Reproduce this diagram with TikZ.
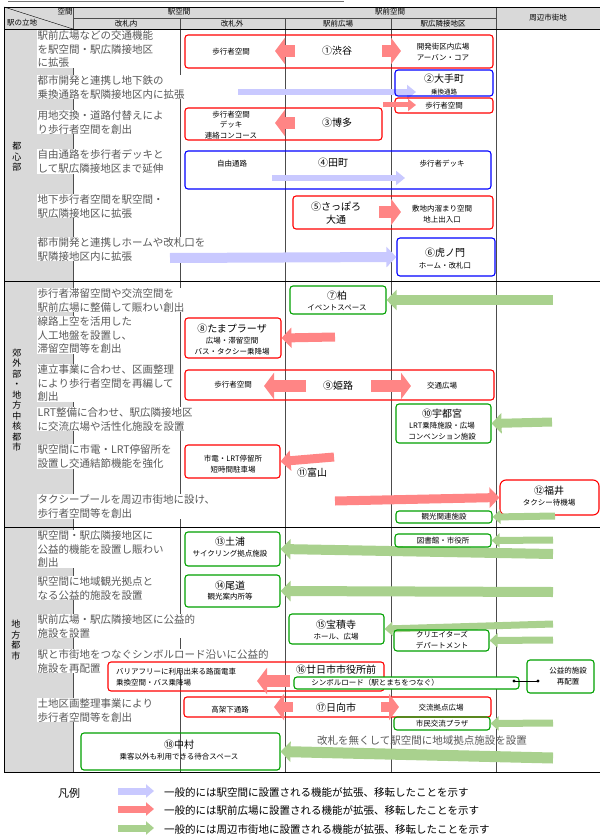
\documentclass[tikz,border=0pt]{standalone}
\usepackage{fontspec}
\newfontfamily\jp{Noto Sans CJK JP}
\usetikzlibrary{arrows.meta}
\definecolor{pinkarr}{HTML}{FF8585}
\definecolor{lavarr}{HTML}{C9C9FF}
\definecolor{grnarr}{HTML}{A9D18E}
\definecolor{boxred}{HTML}{FF0000}
\definecolor{boxblue}{HTML}{0000FF}
\definecolor{boxgrn}{HTML}{00A000}
\tikzset{
  box/.style={draw,rounded corners=3pt,line width=1.1pt,inner sep=0pt},
  rbox/.style={box,draw=boxred},
  bbox/.style={box,draw=boxblue},
  gbox/.style={box,draw=boxgrn},
  desc/.style={anchor=north west,align=left,fill=white,inner sep=0.5pt,text=black!65,font=\jp\fontsize{10.5}{13.5}\selectfont},
  small/.style={align=center,inner sep=0pt,font=\jp\fontsize{7.5}{10.5}\selectfont},
  city/.style={align=center,inner sep=0pt,font=\jp\fontsize{10}{13}\selectfont},
  head/.style={font=\jp\fontsize{7.5}{9}\selectfont,inner sep=0pt},
  larr/.style={draw=lavarr,line width=6pt,-{Triangle[length=9pt,width=14pt]}},
  parr/.style={draw=pinkarr,line width=9pt,-{Triangle[length=10pt,width=20pt]}},
  garr/.style={draw=grnarr,line width=9pt,-{Triangle[length=10pt,width=20pt]}},
  blk/.style={line width=12pt,-{Triangle[length=10pt,width=26pt]}},
}
\begin{document}
\begin{tikzpicture}[x=1pt,y=-1pt]
\useasboundingbox (0,0) rectangle (608,840);
% frame and grid
\fill[black!15] (4,7) rectangle (600,29);
\fill[black!15] (4,29) rectangle (73,772);
\draw[black!55,thin] (8,1) -- (344,1);
\foreach \xx in {180,285,391} \draw[black!70] (\xx,18) -- (\xx,772);
\draw[black!70] (496,7) -- (496,772);
\draw[black!70] (73,7) -- (73,772);
\draw[black!70] (73,18) -- (496,18);
\draw (4,7) -- (600,7) (4,7) -- (4,772) -- (600,772);
\draw (4,29) -- (600,29);
\draw (4,281) -- (600,281) (4,527) -- (600,527);
\draw (4,7) -- (73,29);
\node[head] (hs) at (65,12) {空間};
\node[head] (hr) at (22,23) {駅の立地};
\node[head] (h1) at (179,12) {駅空間};
\node[head] (h2) at (390,12) {駅前空間};
\node[head] (h3) at (548,18) {周辺市街地};
\node[head] (h4) at (126,24) {改札内};
\node[head] (h5) at (232,24) {改札外};
\node[head] (h6) at (338,24) {駅前広場};
\node[head] (h7) at (443,24) {駅広隣接地区};
\node[head,align=center,font=\jp\fontsize{9}{10.5}\selectfont] (s1) at (17,157) {都\\心\\部};
\node[head,align=center,font=\jp\fontsize{9}{10.5}\selectfont] (s2) at (17,400) {郊\\外\\部\\・\\地\\方\\中\\核\\都\\市};
\node[head,align=center,font=\jp\fontsize{9}{10.5}\selectfont] (s3) at (16,640) {地\\方\\都\\市};

% descriptions
\node[desc] (d1) at (37,30) {駅前広場などの交通機能\\を駅空間・駅広隣接地区\\に拡張};
\node[desc] (d2) at (37,75) {都市開発と連携し地下鉄の\\乗換通路を駅隣接地区内に拡張};
\node[desc] (d3) at (37,110) {用地交換・道路付替えによ\\り歩行者空間を創出};
\node[desc] (d4) at (37,149) {自由通路を歩行者デッキと\\して駅広隣接地区まで延伸};
\node[desc] (d5) at (37,194) {地下歩行者空間を駅空間・\\駅広隣接地区に拡張};
\node[desc] (d6) at (37,237) {都市開発と連携しホームや改札口を\\駅隣接地区内に拡張};
\node[desc] (d7) at (37,288) {歩行者滞留空間や交流空間を\\駅前広場に整備して賑わい創出};
\node[desc] (d8) at (37,316) {線路上空を活用した\\人工地盤を設置し、\\滞留空間等を創出};
\node[desc] (d9) at (37,364) {連立事業に合わせ、区画整理\\により歩行者空間を再編して\\創出};
\node[desc] (d10) at (37,407) {LRT整備に合わせ、駅広隣接地区\\に交流広場や活性化施設を設置};
\node[desc] (d11) at (37,444) {駅空間に市電・LRT停留所を\\設置し交通結節機能を強化};
\node[desc] (d12) at (37,494) {タクシープールを周辺市街地に設け、\\歩行者空間等を創出};
\node[desc] (d13) at (37,530) {駅空間・駅広隣接地区に\\公益的機能を設置し賑わい\\創出};
\node[desc] (d14) at (37,576) {駅空間に地域観光拠点と\\なる公益的施設を設置};
\node[desc] (d15) at (37,614) {駅前広場・駅広隣接地区に公益的\\施設を設置};
\node[desc] (d16) at (37,649) {駅と市街地をつなぐシンボルロード沿いに公益的\\施設を再配置};
\node[desc] (d17) at (37,698) {土地区画整理事業により\\歩行者空間等を創出};

% 都心部
\node[rbox,minimum width=308pt,minimum height=33pt] (shibuya) at (339,51.5) {};
\draw[blk,draw=pinkarr] (295,51) -- (275,51);
\draw[blk,draw=pinkarr] (382,51) -- (401,51);
\node[small] (t1a) at (231,52) {歩行者空間};
\node[city] (t1b) at (337,51) {①渋谷};
\node[small] (t1c) at (443,52) {開発街区内広場\\[1pt]アーバン・コア};

\coordinate (a2) at (238,92);
\draw[larr] (a2) -- (416,92);
\node[bbox,minimum width=98pt,minimum height=26pt] (otemachi) at (444,83) {};
\node[city] (t2a) at (444,79) {②大手町};
\node[small,font=\jp\fontsize{6.5}{8}\selectfont] (t2b) at (444,92) {乗換通路};
\coordinate (b2) at (383,105);
\node[rbox,minimum width=98pt,minimum height=15pt] (ote2) at (444,105.5) {};
\draw[draw=pinkarr,line width=5pt,-{Triangle[length=8pt,width=12pt]}] (b2) -- (416,105);
\node[small] (t2c) at (444,106) {歩行者空間};

\node[rbox,minimum width=197pt,minimum height=32pt] (hakata) at (283.5,124) {};
\draw[blk,draw=pinkarr] (295,123) -- (275,123);
\node[small] (t3a) at (231,125) {歩行者空間\\デッキ\\連絡コンコース};
\node[city] (t3b) at (337,123) {③博多};

\node[bbox,minimum width=306pt,minimum height=38pt] (tamachi) at (338,170) {};
\node[small] (t4a) at (232,164) {自由通路};
\node[city] (t4b) at (333,163) {④田町};
\node[small] (t4c) at (442,164) {歩行者デッキ};
\coordinate (a4) at (272,178);
\draw[larr] (a4) -- (405,178);

\node[rbox,minimum width=200pt,minimum height=33pt] (sapporo) at (393,212.5) {};
\node[city] (t5a) at (336,213) {⑤さっぽろ\\大通};
\draw[blk,draw=pinkarr] (379,212) -- (401,212);
\node[small] (t5b) at (442,214) {敷地内溜まり空間\\[1pt]地上出入口};

\node[bbox,minimum width=98pt,minimum height=38pt] (toranomon) at (446,257) {};
\node[city] (t6a) at (445,253) {⑥虎ノ門};
\node[small] (t6b) at (445,266) {ホーム・改札口};
\coordinate (a6) at (170,258);
\draw[larr,line width=10pt,-{Triangle[length=10pt,width=20pt]}] (a6) -- (toranomon.west);

% 郊外部・地方中核都市
\node[gbox,minimum width=96pt,minimum height=28pt] (kashiwa) at (338,300) {};
\node[small,font=\jp\fontsize{10}{13}\selectfont] (t7a) at (337,296) {⑦柏};
\node[small] (t7b) at (337,308) {イベントスペース};
\coordinate (g7) at (553,300);
\draw[garr,line width=10pt] (g7) -- (kashiwa.east);

\node[rbox,minimum width=96pt,minimum height=40pt] (tama) at (233,338) {};
\node[city] (t8a) at (232,329) {⑧たまプラーザ};
\node[small] (t8b) at (232,346) {広場・滞留空間\\バス・タクシー乗降場};
\coordinate (p8) at (335,337);
\draw[parr] (p8) -- (tama.east);

\node[rbox,minimum width=309pt,minimum height=30pt] (himeji) at (339.5,385) {};
\node[small] (t9a) at (233,385) {歩行者空間};
\node[city] (t9b) at (338,386) {⑨姫路};
\node[small] (t9c) at (442,386) {交通広場};
\draw[blk,draw=pinkarr] (306,386) -- (264,386);
\draw[blk,draw=pinkarr] (371,386) -- (411,386);

\node[gbox,minimum width=95pt,minimum height=39pt] (utsunomiya) at (443.5,423.5) {};
\node[city] (t10a) at (442,414) {⑩宇都宮};
\node[small] (t10b) at (442,431) {LRT乗降施設・広場\\コンベンション施設};
\coordinate (g10) at (552,422);
\draw[garr] (g10) -- (utsunomiya.east);

\node[rbox,minimum width=95pt,minimum height=33pt] (toyama) at (232.5,461.5) {};
\node[small] (t11a) at (233,464) {市電・LRT停留所\\短時間駐車場};
\coordinate (p11) at (334,457);
\draw[parr] (p11) -- (toyama.east);
\node[city] (t11b) at (312,473) {⑪富山};

\node[rbox,minimum width=99pt,minimum height=35pt,rounded corners=6pt] (fukui) at (549.5,497.5) {};
\node[city] (t12a) at (549,491) {⑫福井};
\node[small] (t12b) at (549,503) {タクシー待機場};
\coordinate (p12) at (335,501);
\draw[parr] (p12) -- (fukui.west);
\node[gbox,minimum width=96pt,minimum height=12pt] (kanko) at (444,517) {};
\node[small] (t12c) at (444,517) {観光関連施設};
\coordinate (g12) at (555,516);
\draw[garr,line width=7pt,-{Triangle[length=8pt,width=14pt]}] (g12) -- (kanko.east);

% 地方都市
\node[gbox,minimum width=95pt,minimum height=34pt] (tsuchiura) at (232.5,549) {};
\node[city] (t13a) at (230,542) {⑬土浦};
\node[small] (t13b) at (230,554) {サイクリング拠点施設};
\coordinate (g13) at (553,554);
\draw[garr,line width=10pt] (g13) -- (tsuchiura.east);
\node[gbox,minimum width=96pt,minimum height=13pt] (tosho) at (443,540.5) {};
\node[small] (t13c) at (443,540.5) {図書館・市役所};
\coordinate (g13b) at (553,540);
\draw[garr,line width=7pt,-{Triangle[length=8pt,width=14pt]}] (g13b) -- (tosho.east);

\node[gbox,minimum width=95pt,minimum height=32pt] (onomichi) at (232.5,591) {};
\node[city] (t14a) at (230,586) {⑭尾道};
\node[small] (t14b) at (230,597) {観光案内所等};
\coordinate (g14) at (553,592);
\draw[garr,line width=10pt] (g14) -- (onomichi.east);

\node[gbox,minimum width=95pt,minimum height=30pt] (hoshakuji) at (336.5,629) {};
\node[city] (t15a) at (336,625) {⑮宝積寺};
\node[small] (t15b) at (336,637) {ホール、広場};
\coordinate (g15) at (553,624);
\draw[garr,line width=7pt,-{Triangle[length=8pt,width=14pt]}] (g15) -- (hoshakuji.east);
\node[gbox,minimum width=95pt,minimum height=21pt] (creators) at (441.5,640.5) {};
\node[small] (t15c) at (442,640) {クリエイターズ\\デパートメント};
\coordinate (g15b) at (553,640);
\draw[garr,line width=7pt,-{Triangle[length=8pt,width=14pt]}] (g15b) -- (creators.east);

\node[rbox,minimum width=276pt,minimum height=29pt] (hatsukaichi) at (246,676.5) {};
\node[small,align=left,anchor=west] (t16a) at (116,677) {バリアフリーに利用出来る路面電車\\乗換空間・バス乗降場};
\node[city,fill=white] (t16b) at (336,670) {⑯廿日市市役所前};
\draw[blk,draw=pinkarr] (290,681) -- (257,681);
\node[gbox,fill=white,minimum width=225pt,minimum height=12pt] (symbol) at (406.5,683) {};
\node[small] (t16c) at (375,683) {シンボルロード（駅とまちをつなぐ）};
\node[gbox,minimum width=67pt,minimum height=33pt] (kouekiteki) at (560.5,676.5) {};
\node[small] (t16d) at (568,676) {公益的施設\\再配置};
\coordinate (c16a) at (514,681);
\coordinate (c16b) at (538,681);
\draw[line width=1pt] (c16a) -- (c16b);
\fill (c16a) circle (1.6pt) (c16b) circle (1.6pt);

\node[rbox,minimum width=307pt,minimum height=20pt] (hyuga) at (337.5,707) {};
\node[small] (t17a) at (230,710) {高架下通路};
\node[city] (t17b) at (336,708) {⑰日向市};
\node[small] (t17c) at (441,708) {交流拠点広場};
\draw[blk,line width=10pt,draw=pinkarr] (293,707) -- (274,707);
\draw[blk,line width=10pt,draw=pinkarr] (381,707) -- (399,707);
\node[gbox,minimum width=96pt,minimum height=13pt] (plaza) at (442,723.5) {};
\node[small] (t17d) at (442,723.5) {市民交流プラザ};
\coordinate (g17) at (553,723);
\draw[garr,line width=7pt,-{Triangle[length=8pt,width=14pt]}] (g17) -- (plaza.east);

\node[gbox,minimum width=199pt,minimum height=37pt] (nakamura) at (180.5,751.5) {};
\node[city] (t18a) at (179,745) {⑱中村};
\node[small] (t18b) at (179,757) {乗客以外も利用できる待合スペース};
\node[desc,anchor=center,fill=none] (t18c) at (422,741) {改札を無くして駅空間に地域拠点施設を設置};
\coordinate (g18) at (553,758);
\draw[garr,line width=11pt] (g18) -- (nakamura.east);

% legend
\node[font=\jp\fontsize{11}{13}\selectfont] (legend) at (69,793) {凡例};
\coordinate (l1) at (118,791);
\coordinate (l2) at (118,809);
\coordinate (l3) at (118,828);
\draw[larr,line width=7pt,-{Triangle[length=8pt,width=13pt]}] (l1) -- ++(36,0);
\draw[parr,line width=7pt,-{Triangle[length=8pt,width=13pt]}] (l2) -- ++(36,0);
\draw[garr,line width=7pt,-{Triangle[length=8pt,width=13pt]}] (l3) -- ++(36,0);
\node[anchor=west,inner sep=0pt,font=\jp\fontsize{10.5}{13}\selectfont] (lt1) at (164,792) {一般的には駅空間に設置される機能が拡張、移転したことを示す};
\node[anchor=west,inner sep=0pt,font=\jp\fontsize{10.5}{13}\selectfont] (lt2) at (164,810) {一般的には駅前広場に設置される機能が拡張、移転したことを示す};
\node[anchor=west,inner sep=0pt,font=\jp\fontsize{10.5}{13}\selectfont] (lt3) at (164,829) {一般的には周辺市街地に設置される機能が拡張、移転したことを示す};
\end{tikzpicture}
\end{document}
